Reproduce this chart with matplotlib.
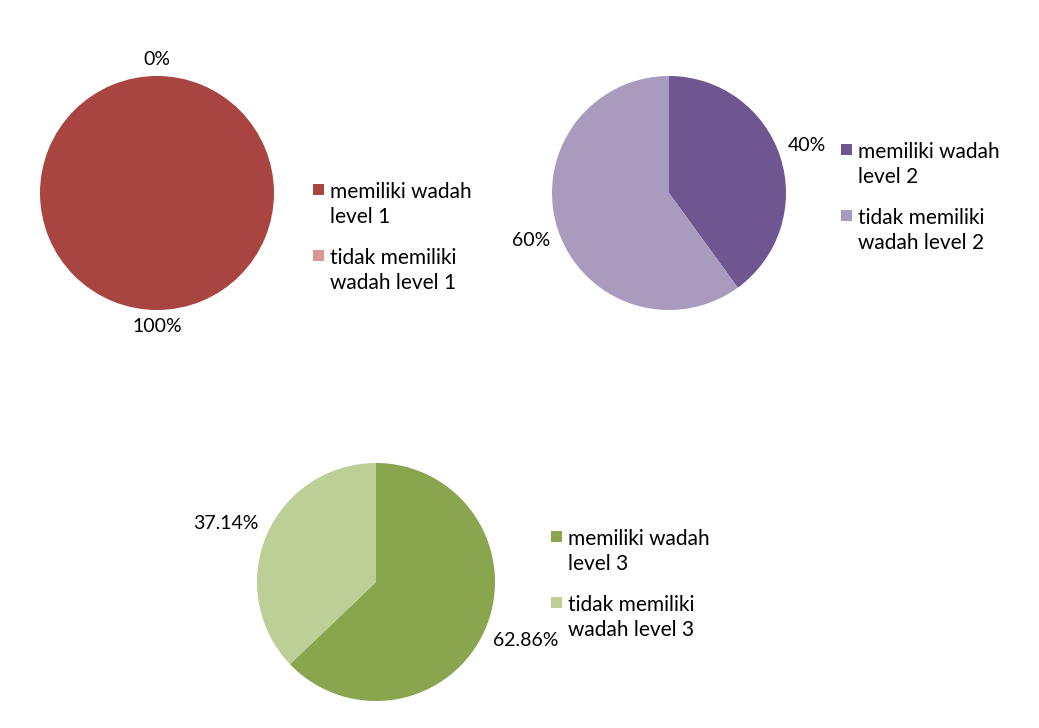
import numpy as np
import matplotlib.pyplot as plt
from matplotlib.patches import Rectangle

plt.rcParams['font.family'] = ['Lato', 'DejaVu Sans']

# data
levels = ['level 1', 'level 2', 'level 3']
have = [100, 40, 62.86]
have_not = [0, 60, 37.14]
pct_text = [['100%', '0%'], ['40%', '60%'], ['62.86%', '37.14%']]
dark_colors = ['#A84541', '#6F5690', '#89A54E']
light_colors = ['#D99694', '#A99BBD', '#BBCF96']

W, H = 1039, 728
fig = plt.figure(figsize=(W / 100, H / 100), dpi=100)

# pie centres / radius (px), legend anchor (text left, first baseline in px)
pies = [(157, 193, 117), (669, 193, 117), (376, 582, 119)]
legends = [(330, 198), (858, 158), (568, 545)]


def fx(px):
    return px / W


def fy(py):
    return 1 - py / H


for i in range(3):
    cx, cy, r = pies[i]
    ax = fig.add_axes([(cx - r) / W, (H - cy - r) / H, 2 * r / W, 2 * r / H])
    vals = [have[i], have_not[i]]
    wedges, _ = ax.pie(vals, colors=[dark_colors[i], light_colors[i]],
                       startangle=90, counterclock=False,
                       wedgeprops=dict(linewidth=0))
    ax.set_xlim(-1, 1)
    ax.set_ylim(-1, 1)
    ax.set_aspect('equal')

    # outside-end labels, anchored by the corner nearest the pie
    for w, txt in zip(wedges, pct_text[i]):
        ang = np.deg2rad((w.theta1 + w.theta2) / 2)
        x, y = np.cos(ang), np.sin(ang)
        if abs(x) < 0.2:
            ha = 'center'
        else:
            ha = 'left' if x > 0 else 'right'
        if abs(y) < 0.15:
            va = 'center'
        else:
            va = 'bottom' if y > 0 else 'top'
        d = 1.07
        ax.text(d * x, d * y, txt, ha=ha, va=va, fontsize=14, color='#000000',
                clip_on=False)

    # legend (two-line entries, square marker next to first line)
    labels = ['memiliki wadah\n' + levels[i], 'tidak memiliki\nwadah ' + levels[i]]
    colors = [dark_colors[i], light_colors[i]]
    lx, ly = legends[i]
    for j, (lab, col) in enumerate(zip(labels, colors)):
        base = ly + j * 66
        fig.add_artist(Rectangle((fx(lx - 17), fy(base - 9 + 5.5)), 11 / W, 11 / H,
                                 facecolor=col, edgecolor='none',
                                 transform=fig.transFigure))
        for k, line in enumerate(lab.split('\n')):
            fig.text(fx(lx), fy(base + k * 25), line, ha='left', va='baseline',
                     fontsize=15, color='#000000')

fig.savefig('out.png', dpi=100)
